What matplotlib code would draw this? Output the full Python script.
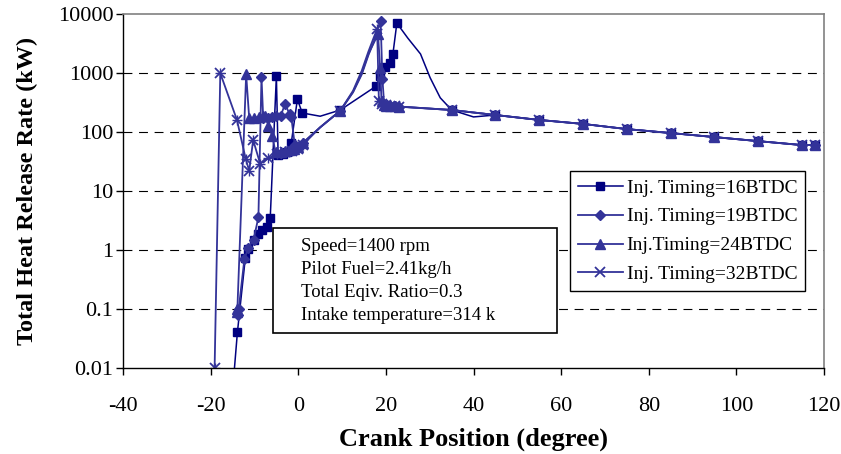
import matplotlib
matplotlib.use("Agg")
import matplotlib.pyplot as plt
from matplotlib.patches import Rectangle
import numpy as np

plt.rcParams['font.family'] = ['Liberation Serif', 'DejaVu Serif']

# ---------------- data (crank angle deg, heat release kW) ----------------
tail_x = [35, 45, 55, 65, 75, 85, 95, 105, 115, 118]
tail_y = [236, 194, 160, 137, 112, 96, 82, 70, 60, 60]

inj16_x = [-14.9, -13.9, -12.1, -11.4, -10.2, -9.1, -8.2, -7.1, -6.4, -5.0, -4.6, -3.5, -2.5,
           -1.6, -0.2, 0.9, 5.0, 9.6, 17.8, 18.7, 19.8, 20.9, 21.6, 22.5, 25.0, 27.9, 30.1,
           32.4] + tail_x[:1] + [40] + tail_x[1:]
inj16_y = [0.005, 0.04, 0.72, 1.05, 1.5, 1.9, 2.2, 2.5, 3.5, 880, 40, 42, 45,
           65, 360, 210, 185, 236, 600, 900, 1250, 1500, 2100, 7000, 3900, 2100, 830,
           380] + tail_y[:1] + [180] + tail_y[1:]
inj16_nomark = [0, 16, 24, 25, 26, 27, 29]

inj19_x = [-13.8, -13.6, -12.3, -11.4, -10.2, -9.1, -8.4, -8.0, -7.0, -6.0, -5.0, -4.0,
           -3.0, -2.0, -1.6, -0.8, 0.0, 1.0, 5.0, 9.6, 12.5, 14.5, 16.0, 17.5, 18.8,
           19.2, 19.6, 20.2, 21.0, 22.0, 23.0] + tail_x
inj19_y = [0.08, 0.1, 0.7, 1.1, 1.5, 3.6, 850, 170, 175, 180, 185, 190,
           300, 200, 180, 60, 55, 65, 120, 230, 500, 1100, 2300, 4500, 7500,
           800, 300, 290, 280, 275, 270] + tail_y
inj19_nomark = [18, 20, 21, 22, 23]

inj24_x = [-14.0, -13.9, -11.9, -11.2, -10.0, -9.0, -8.0, -7.5, -6.8, -5.9, -5.2, -4.0,
           -3.0, -2.0, -1.0, 0.0, 1.0, 5.0, 9.6, 12.5, 14.5, 16.0, 17.3, 18.2, 18.7,
           19.0, 19.5, 20.0, 21.0, 22.0, 23.0] + tail_x
inj24_y = [0.09, 0.1, 950, 170, 175, 180, 185, 190, 125, 85, 45, 45,
           47, 50, 52, 55, 65, 120, 230, 480, 1000, 2100, 3300, 4500, 1200,
           330, 290, 280, 275, 272, 270] + tail_y
inj24_nomark = [17, 19, 20, 21, 22]

inj32_x = [-19.1, -17.8, -14.0, -12.0, -11.2, -10.3, -8.7, -6.8, -4.8, -3.0, -1.5, 0.0,
           1.0, 5.0, 9.6, 12.5, 14.5, 16.0, 17.3, 18.0, 18.4, 19.0, 20.0, 21.0, 22.0,
           23.0] + tail_x
inj32_y = [0.01, 990, 160, 35, 22, 73, 29, 36, 42, 45, 48, 52,
           60, 120, 230, 470, 950, 2000, 3500, 5500, 330, 300, 285, 278, 272,
           268] + tail_y
inj32_nomark = [13, 15, 16, 17, 18]

labels = ["Inj. Timing=16BTDC", "Inj. Timing=19BTDC", "Inj.Timing=24BTDC", "Inj. Timing=32BTDC"]
notes = ["Speed=1400 rpm", "Pilot Fuel=2.41kg/h", "Total Eqiv. Ratio=0.3",
         "Intake temperature=314 k"]
xticks = [-40, -20, 0, 20, 40, 60, 80, 100, 120]
yticks = [0.01, 0.1, 1, 10, 100, 1000, 10000]
ytick_labels = ["0.01", "0.1", "1", "10", "100", "1000", "10000"]

# ---------------- figure ----------------
fig = plt.figure(figsize=(8.41, 4.54), dpi=100)
ax = fig.add_axes([0.1463, 0.1894, 0.8335, 0.7798])

def marks(n, nomark):
    return [i for i in range(n) if i not in nomark]

series = [
    (inj16_x, inj16_y, inj16_nomark, 's', '#000080', 6.0, 1.1),
    (inj19_x, inj19_y, inj19_nomark, 'D', '#333399', 5.5, 1.3),
    (inj24_x, inj24_y, inj24_nomark, '^', '#333399', 6.5, 1.3),
    (inj32_x, inj32_y, inj32_nomark, 'x', '#333399', 6.5, 1.3),
]
for (x, y, nm, mk, col, ms, lw), lab in zip(series, labels):
    kw = dict(color=col, lw=lw, marker=mk, ms=ms, markevery=marks(len(x), nm),
              mfc=col, mec=col, label=lab)
    if mk == 'x':
        kw['mew'] = 1.3
        ax.plot(x, y, **kw)
        ax.plot(np.array(x)[marks(len(x), nm)], np.array(y)[marks(len(x), nm)],
                ls='none', marker='+', ms=ms + 1, color=col, mew=1.0)
    else:
        ax.plot(x, y, **kw)

ax.set_yscale('log')
ax.set_xlim(-40, 120)
ax.set_ylim(0.01, 10000)
ax.set_xticks(xticks)
ax.set_xticklabels([str(t) for t in xticks])
ax.set_yticks(yticks)
ax.set_yticklabels(ytick_labels)
ax.minorticks_off()
ax.tick_params(axis='both', labelsize=16, direction='out', length=5, width=1, colors='black')
ax.tick_params(axis='x', pad=16)
ax.tick_params(axis='y', pad=2)

for yv in yticks[1:-1]:
    ax.axhline(yv, color='black', lw=0.8, ls=(0, (8, 6)), zorder=0)

for s in ['top', 'right']:
    ax.spines[s].set_color('#808080')
    ax.spines[s].set_linewidth(1.2)
for s in ['left', 'bottom']:
    ax.spines[s].set_color('black')
    ax.spines[s].set_linewidth(1.0)

ax.set_xlabel("Crank Position (degree)", fontsize=19, fontweight='bold', labelpad=8)
ax.set_ylabel("Total Heat Release Rate (kW)", fontsize=17.5, fontweight='bold', labelpad=14)

leg = ax.legend(loc='upper left', bbox_to_anchor=(0.638, 0.556), fontsize=14,
                frameon=True, fancybox=False, edgecolor='black', framealpha=1,
                borderaxespad=0, handlelength=2.3, labelspacing=0.58, borderpad=0.4,
                handletextpad=0.2)
leg.get_frame().set_linewidth(1.0)

ax.add_patch(Rectangle((0.214, 0.0989), 0.405, 0.2966, transform=ax.transAxes,
                       fill=True, facecolor='white', edgecolor='black', lw=1.2, zorder=5))
for i, t in enumerate(notes):
    ax.text(0.254, 0.342 - i * 0.0645, t, transform=ax.transAxes, fontsize=13.5,
            va='center', ha='left', zorder=6)

fig.savefig("out.png", dpi=100)
